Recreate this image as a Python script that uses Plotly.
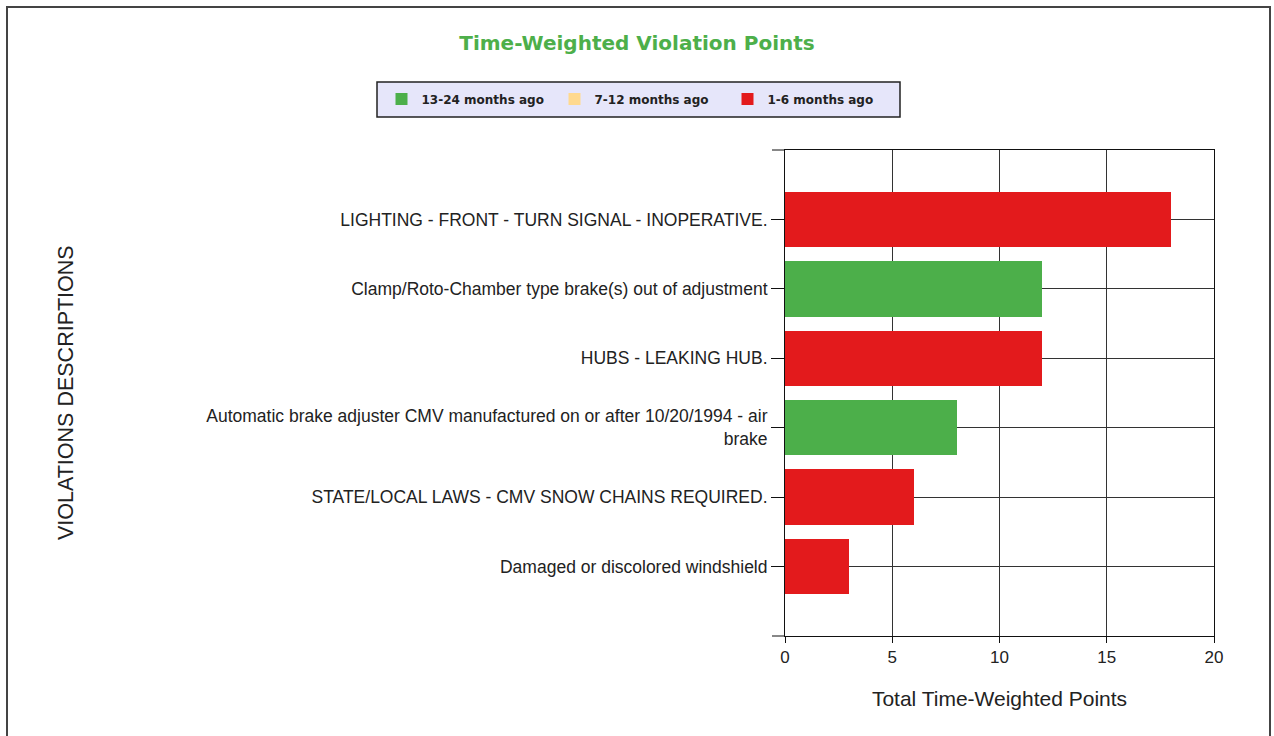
import plotly.graph_objects as go

categories = [
    "LIGHTING - FRONT - TURN SIGNAL - INOPERATIVE.",
    "Clamp/Roto-Chamber type brake(s) out of adjustment",
    "HUBS - LEAKING HUB.",
    "Automatic brake adjuster CMV manufactured on or after 10/20/1994 - air<br>brake",
    "STATE/LOCAL LAWS - CMV SNOW CHAINS REQUIRED.",
    "Damaged or discolored windshield",
]
series_names = ["13-24 months ago", "7-12 months ago", "1-6 months ago"]
vals_13_24 = [0, 12, 0, 8, 0, 0]
vals_7_12 = [0, 0, 0, 0, 0, 0]
vals_1_6 = [18, 0, 12, 0, 6, 3]
colors = ["#4CAF4A", "#FFD98E", "#E31A1C"]

W, H = 1274, 736
L, R, T, B = 785, 60, 150, 100
pw, ph = W - L - R, H - T - B

def px_x(p):
    return (p - L) / pw

def px_y(p):
    return (H - B - p) / ph

fig = go.Figure()
for name, vals, col in zip(series_names, [vals_13_24, vals_7_12, vals_1_6], colors):
    fig.add_trace(go.Bar(
        y=categories, x=vals, name=name, orientation="h",
        marker=dict(color=col, line=dict(width=0)), width=0.8,
    ))

fig.update_layout(
    width=W, height=H,
    margin=dict(l=L, r=R, t=T, b=B),
    paper_bgcolor="white", plot_bgcolor="white",
    barmode="stack",
    font=dict(family="Liberation Sans, Arial, sans-serif", color="#222222"),
    title=dict(
        text="<b>Time-Weighted Violation Points</b>",
        x=0.5, xref="container", xanchor="center",
        y=1 - 43 / H, yref="container", yanchor="middle",
        font=dict(family="DejaVu Sans, Verdana, sans-serif", size=20, color="#4DAF4A"),
    ),
    legend=dict(
        orientation="h",
        x=px_x(641), xanchor="center",
        y=px_y(99), yanchor="middle",
        bgcolor="rgba(0,0,0,0)", borderwidth=0,
        font=dict(family="DejaVu Sans, Verdana, sans-serif", size=12, color="#222222", weight="bold"),
        itemwidth=30, traceorder="normal", entrywidth=128,
    ),
    showlegend=True,
    bargap=0.2,
)
fig.update_xaxes(
    range=[0, 20], tickvals=[0, 5, 10, 15, 20],
    showgrid=True, gridcolor="#333333", gridwidth=1,
    showline=True, linecolor="#111111", linewidth=1, mirror=True,
    ticks="outside", ticklen=6, tickcolor="#111111",
    tickfont=dict(size=17), zeroline=False,
    title=dict(text="Total Time-Weighted Points", font=dict(size=21), standoff=24),
)
fig.update_yaxes(
    type="category", categoryorder="array", categoryarray=categories,
    range=[len(categories), -1],
    showgrid=True, gridcolor="#333333", gridwidth=1,
    showline=True, linecolor="#111111", linewidth=1, mirror=True,
    ticks="outside", ticklen=13, tickcolor="#111111",
    tickfont=dict(size=17.5),
)
# tick stubs at top and bottom edges
for yd in (0, 1):
    fig.add_shape(type="line", xref="x domain", yref="y domain",
                  x0=-13 / pw, x1=0, y0=yd, y1=yd,
                  line=dict(color="#111111", width=1))
# legend box
fig.add_shape(type="rect", xref="paper", yref="paper",
              x0=px_x(377), x1=px_x(900), y0=px_y(82), y1=px_y(117),
              line=dict(color="#222222", width=1.5), fillcolor="#E6E6FA", layer="below")
# y-axis title
fig.add_annotation(text="VIOLATIONS DESCRIPTIONS", textangle=-90,
                   xref="paper", yref="paper", x=px_x(66), y=0.5,
                   xanchor="center", yanchor="middle", showarrow=False,
                   font=dict(size=21.5, color="#222222"))
# outer frame
fig.add_shape(type="rect", xref="paper", yref="paper",
              x0=px_x(7), x1=px_x(1270), y0=px_y(7), y1=px_y(745),
              line=dict(color="#444444", width=2), fillcolor="rgba(0,0,0,0)", layer="below")

fig.write_html("out.html", post_script="document.body.style.margin='0';",
               config={"displayModeBar": False})
